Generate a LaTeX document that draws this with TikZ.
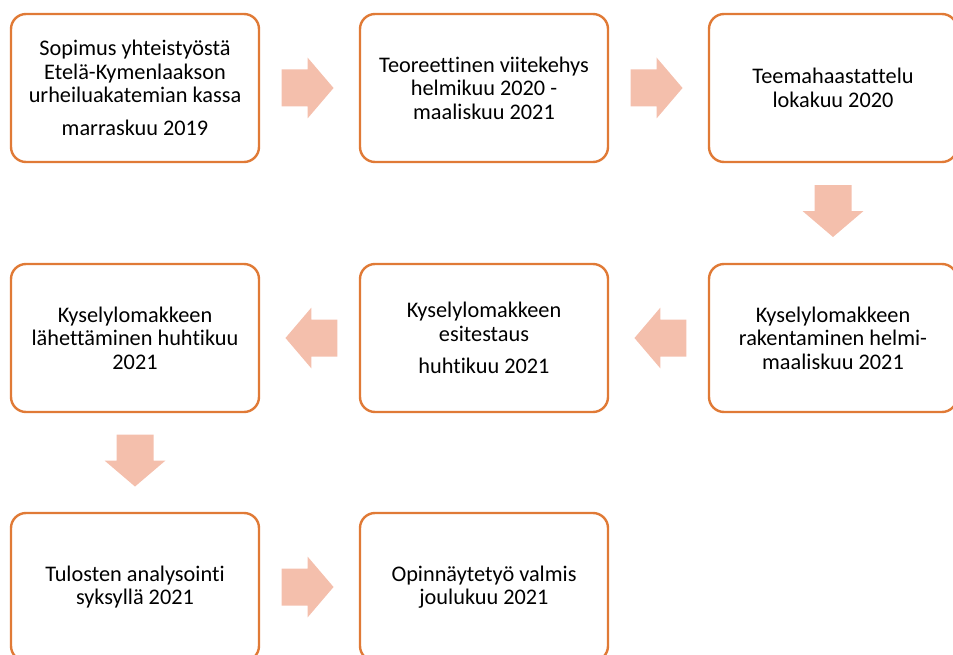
\documentclass[tikz,border=0pt]{standalone}
\usepackage{fontspec}
\setmainfont{Carlito}[Ligatures={NoCommon,NoContextual,NoRequired}]
\usetikzlibrary{calc}
\definecolor{boxline}{RGB}{224,122,54}
\definecolor{arrowfill}{RGB}{244,191,172}
\newcommand{\blockarrow}[3]{%
\fill[arrowfill, shift={($(#1)!.48!(#2)$)}, rotate=#3]
  (-26,-18.5) -- (0,-18.5) -- (0,-30.5) -- (26,0) -- (0,30.5) -- (0,18.5) -- (-26,18.5) -- cycle;}

\begin{document}
\begin{tikzpicture}[x=1pt, y=-1pt,
  phase/.style={draw=boxline, line width=2.4pt, rounded corners=15pt, fill=white,
    minimum width=248pt, minimum height=148pt, align=center, inner sep=0pt,
    font=\fontsize{22.3}{23.5}\selectfont}]
\useasboundingbox (0,0) rectangle (953,655);
\node[phase] (s1) at (135,88) {Sopimus yhteistyöstä\\Etelä-Kymenlaakson\\urheiluakatemian kassa\\[9pt]marraskuu 2019};
\node[phase] (s2) at (484,88) {Teoreettinen viitekehys\\helmikuu 2020 -\\maaliskuu 2021};
\node[phase] (s3) at (833,88) {Teemahaastattelu\\lokakuu 2020};
\node[phase] (s4) at (833,338) {Kyselylomakkeen\\rakentaminen helmi-\\maaliskuu 2021};
\node[phase] (s5) at (484,338) {Kyselylomakkeen\\esitestaus\\[9pt]huhtikuu 2021};
\node[phase] (s6) at (135,338) {Kyselylomakkeen\\lähettäminen huhtikuu\\2021};
\node[phase] (s7) at (135,587) {Tulosten analysointi\\syksyllä 2021};
\node[phase] (s8) at (484,587) {Opinnäytetyö valmis\\joulukuu 2021};
\blockarrow{s1.east}{s2.west}{0}
\blockarrow{s2.east}{s3.west}{0}
\blockarrow{s3.south}{s4.north}{-90}
\blockarrow{s4.west}{s5.east}{180}
\blockarrow{s5.west}{s6.east}{180}
\blockarrow{s6.south}{s7.north}{-90}
\blockarrow{s7.east}{s8.west}{0}
\end{tikzpicture}
\end{document}
